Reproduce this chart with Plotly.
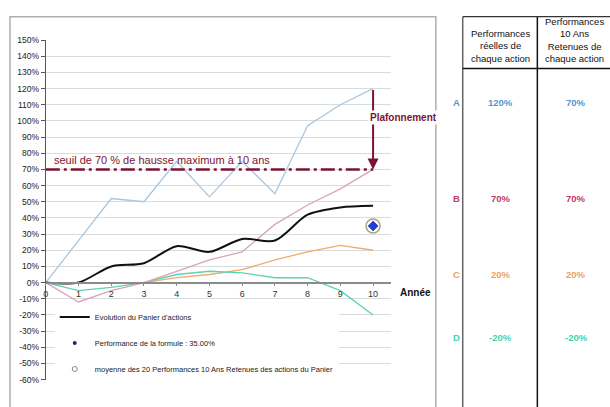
import plotly.graph_objects as go

# ---------------- data ----------------
years = [0, 1, 2, 3, 4, 5, 6, 7, 8, 9, 10]
action_a = [0, 26, 52, 50, 75, 53, 75, 55, 97, 110, 120]
action_b = [0, -12, -5, 0, 7, 14, 19, 36, 48, 58, 70]
action_c = [0, 0, 0, 0, 3, 5, 8, 14, 19, 23, 20]
action_d = [0, -5, -3, 0, 5, 7, 6, 3, 3, -5, -20]
panier = [0, 0, 10, 12, 22.5, 19, 27, 26, 42, 46.5, 47.5]
seuil = 70
formule = 35.0
table_letters = ["A", "B", "C", "D"]
perf_reelles = ["120%", "70%", "20%", "-20%"]
perf_retenues = ["70%", "70%", "20%", "-20%"]
retenues_vals = [70, 70, 20, -20]
moyenne = sum(retenues_vals) / len(retenues_vals)
header1 = "Performances<br>réelles de<br>chaque action"
header2 = "Performances<br>10 Ans<br>Retenues de<br>chaque action"
y_ticks = list(range(-60, 151, 10))

# ---------------- styles ----------------
W, H = 610, 407
FONT = "Liberation Sans, Arial, sans-serif"
DARKRED = "#7a1434"
col_a, col_b, col_c, col_d = "#a9c6df", "#d9a3bd", "#f0ab66", "#5ed3b4"
txt_cols = ["#4f97d4", "#c2386a", "#e8a460", "#3fd3ae"]


def px(x):
    return x / W


def py(y):
    return 1 - y / H


fig = go.Figure()

for vals, col in [(action_c, col_c), (action_d, col_d), (action_b, col_b), (action_a, col_a)]:
    fig.add_trace(go.Scatter(x=years, y=vals, mode="lines", showlegend=False,
                             line=dict(color=col, width=1.3), hoverinfo="skip"))

fig.add_trace(go.Scatter(x=[years[0], years[-1]], y=[seuil, seuil], mode="lines", showlegend=False,
                         line=dict(color=DARKRED, width=2.5, dash="14px,4px,3px,4px")))

fig.add_trace(go.Scatter(x=years, y=panier, mode="lines", name="Evolution du Panier d'actions",
                         line=dict(color="#111111", width=2, shape="spline", smoothing=0.8),
                         legendgroup="g1"))

fig.add_trace(go.Scatter(x=[years[-1]], y=[moyenne], mode="markers", showlegend=False,
                         marker=dict(symbol="circle", size=14, color="white",
                                     line=dict(color="#a8a080", width=1.5))))
fig.add_trace(go.Scatter(x=[years[-1]], y=[formule], mode="markers", showlegend=False,
                         marker=dict(symbol="diamond", size=9, color="#1f40d0",
                                     line=dict(color="white", width=1))))

# legend-only entries
fig.add_trace(go.Scatter(x=[None], y=[None], mode="markers",
                         name="Performance de la formule : %.2f%%" % formule,
                         marker=dict(symbol="circle", size=4, color="#1a2a80"), legendgroup="g2"))
fig.add_trace(go.Scatter(x=[None], y=[None], mode="markers",
                         name="moyenne des 20 Performances 10 Ans Retenues des actions du Panier",
                         marker=dict(symbol="circle-open", size=5, color="#888888",
                                     line=dict(width=1)), legendgroup="g3"))

x_dom = [px(43), px(390)]
y_dom = [1 - 384 / H, 1 - 36 / H]
zero_pos = y_dom[0] + (0 - (-60)) / 210 * (y_dom[1] - y_dom[0])

fig.update_layout(
    width=W, height=H, margin=dict(l=0, r=0, t=0, b=0),
    paper_bgcolor="white", plot_bgcolor="white",
    font=dict(family=FONT, color="#222222"),
    xaxis=dict(domain=x_dom, range=[0, 10.55], anchor="free", position=zero_pos,
               tickvals=years, ticks="outside", ticklen=3, tickcolor="#888",
               showline=True, linecolor="#8a8a8a", linewidth=1.5,
               showgrid=False, zeroline=False, tickfont=dict(size=9, color="#333")),
    yaxis=dict(domain=y_dom, range=[-60, 150], tickvals=y_ticks,
               ticktext=["%d%%" % v for v in y_ticks],
               ticks="outside", ticklen=4, tickcolor="#555",
               showline=True, linecolor="#555", linewidth=1,
               showgrid=True, gridcolor="#d9dcdc", gridwidth=1, zeroline=False,
               tickfont=dict(size=8.5, color="#222")),
    legend=dict(x=px(52), y=py(305), xanchor="left", yanchor="top",
                bgcolor="white", borderwidth=0, font=dict(size=7.5, color="#222"),
                traceorder="grouped", tracegroupgap=7),
    showlegend=True,
)

shapes = []
# chart frame
shapes.append(dict(type="rect", xref="paper", yref="paper", x0=px(7), x1=px(435),
                   y0=-0.05, y1=py(12), line=dict(color="#a9b1b1", width=1.5)))
# table lines
shapes.append(dict(type="line", xref="paper", yref="paper", x0=px(462), x1=px(462),
                   y0=-0.05, y1=py(12), line=dict(color="#666", width=1.5)))
shapes.append(dict(type="line", xref="paper", yref="paper", x0=px(537), x1=px(537),
                   y0=-0.05, y1=py(12), line=dict(color="#111", width=1.5)))
shapes.append(dict(type="line", xref="paper", yref="paper", x0=px(462), x1=1.0,
                   y0=py(12), y1=py(12), line=dict(color="#333", width=1.2)))
shapes.append(dict(type="line", xref="paper", yref="paper", x0=px(462), x1=1.0,
                   y0=py(65), y1=py(65), line=dict(color="#111", width=1.5)))
fig.update_layout(shapes=shapes)

ann = []
ann.append(dict(x=years[-1], y=seuil, ax=years[-1], ay=action_a[-1], xref="x", yref="y",
                axref="x", ayref="y", showarrow=True, arrowhead=2, arrowsize=1.1,
                arrowwidth=2, arrowcolor=DARKRED, text=""))
ann.append(dict(x=9.83, y=102, xref="x", yref="y", text="<b>Plafonnement</b>", showarrow=False,
                xanchor="left", yanchor="middle", bgcolor="white",
                font=dict(size=10, color=DARKRED, family=FONT)))
ann.append(dict(x=0.2, y=seuil + 1, xref="x", yref="y",
                text="seuil de %d %% de hausse maximum à 10 ans" % seuil, showarrow=False,
                xanchor="left", yanchor="bottom", font=dict(size=11, color=DARKRED, family=FONT)))
ann.append(dict(x=px(397), y=py(295), xref="paper", yref="paper", text="<b>Année</b>",
                showarrow=False, xanchor="left", yanchor="middle",
                font=dict(size=10, color="#111", family=FONT)))
ann.append(dict(x=px(500), y=py(63), xref="paper", yref="paper", text=header1, showarrow=False,
                xanchor="center", yanchor="bottom", font=dict(size=9.5, color="#111", family=FONT)))
ann.append(dict(x=px(574), y=py(63), xref="paper", yref="paper", text=header2, showarrow=False,
                xanchor="center", yanchor="bottom", font=dict(size=9.5, color="#111", family=FONT)))
row_y = [100, 198, 276, 341]
for i in range(4):
    ann.append(dict(x=px(461), y=py(row_y[i]), xref="paper", yref="paper",
                    text="<b>%s</b>" % table_letters[i], showarrow=False,
                    xanchor="right", yanchor="middle",
                    font=dict(size=9.5, color=txt_cols[i], family=FONT)))
    ann.append(dict(x=px(500), y=py(row_y[i]), xref="paper", yref="paper",
                    text="<b>%s</b>" % perf_reelles[i], showarrow=False,
                    xanchor="center", yanchor="middle",
                    font=dict(size=9.5, color=txt_cols[i], family=FONT)))
    ann.append(dict(x=px(576), y=py(row_y[i]), xref="paper", yref="paper",
                    text="<b>%s</b>" % perf_retenues[i], showarrow=False,
                    xanchor="center", yanchor="middle",
                    font=dict(size=9.5, color=txt_cols[i], family=FONT)))
fig.update_layout(annotations=ann)

fig.write_html("out.html", config={"displayModeBar": False},
               post_script="document.body.style.margin='0px';")
